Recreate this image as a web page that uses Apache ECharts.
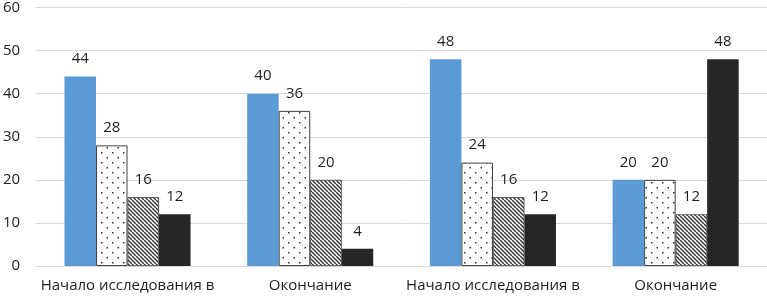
<!DOCTYPE html>
<html><head><meta charset="utf-8">
<script src="https://cdn.jsdelivr.net/npm/echarts@6/dist/echarts.min.js"></script>
<style>html,body{margin:0;padding:0;background:#fff}#c{width:767px;height:297px}</style>
</head><body><div id="c"></div>
<script>
const categories = ['Начало исследования в', 'Окончание', 'Начало исследования в', 'Окончание'];
const seriesBlue = [44, 40, 48, 20];
const seriesDotted = [28, 36, 24, 20];
const seriesHatched = [16, 20, 16, 12];
const seriesBlack = [12, 4, 12, 48];
const yTicks = { min: 0, max: 60, interval: 10 };

function dotPattern() {
  const c = document.createElement('canvas');
  c.width = 11; c.height = 10;
  const g = c.getContext('2d');
  g.fillStyle = '#fff'; g.fillRect(0, 0, 11, 10);
  g.fillStyle = '#303030';
  g.fillRect(2, 2, 1.5, 1.5);
  g.fillRect(7.5, 7, 1.5, 1.5);
  return c;
}
function hatchPattern() {
  const c = document.createElement('canvas');
  c.width = 8; c.height = 8;
  const g = c.getContext('2d');
  g.fillStyle = '#fff'; g.fillRect(0, 0, 8, 8);
  g.strokeStyle = '#3a3a3a'; g.lineWidth = 1.5;
  for (let k = -3; k <= 3; k++) {
    g.beginPath(); g.moveTo(k * 4, 0); g.lineTo(k * 4 + 8, 8); g.stroke();
  }
  return c;
}
const FONT = 'Open Sans';
const labelCfg = { show: true, position: 'top', distance: 10, fontSize: 15, color: '#1f1f1f', fontFamily: FONT };
const chart = echarts.init(document.getElementById('c'));
chart.setOption({
  animation: false,
  grid: { left: 34, right: 0, top: 6, bottom: 31 },
  xAxis: {
    type: 'category', data: categories,
    axisLine: { lineStyle: { color: '#d9d9d9', width: 1 } },
    axisTick: { show: false },
    axisLabel: { fontSize: 15, color: '#1f1f1f', fontFamily: FONT, margin: 12, interval: 0 }
  },
  yAxis: {
    type: 'value', min: yTicks.min, max: yTicks.max, interval: yTicks.interval,
    axisLine: { show: false }, axisTick: { show: false },
    splitLine: { lineStyle: { color: '#d9d9d9', width: 1 } },
    axisLabel: { fontSize: 15, color: '#1f1f1f', fontFamily: FONT, margin: 16 }
  },
  series: [
    { type: 'bar', data: seriesBlue, barGap: '0%', barCategoryGap: '31%',
      itemStyle: { color: '#5b9bd5' }, label: labelCfg },
    { type: 'bar', data: seriesDotted,
      itemStyle: { color: { image: dotPattern(), repeat: 'repeat' }, borderColor: '#404040', borderWidth: 1 }, label: labelCfg },
    { type: 'bar', data: seriesHatched,
      itemStyle: { color: { image: hatchPattern(), repeat: 'repeat' }, borderColor: '#404040', borderWidth: 0.8 }, label: labelCfg },
    { type: 'bar', data: seriesBlack,
      itemStyle: { color: '#262626' }, label: labelCfg }
  ]
});
</script></body></html>
